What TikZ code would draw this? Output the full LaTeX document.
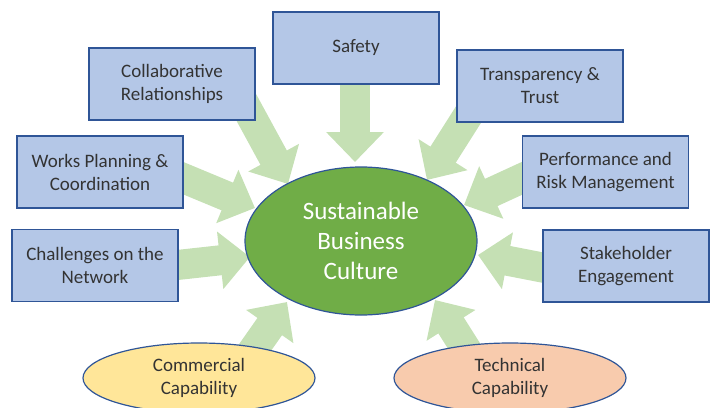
\documentclass[tikz,border=0pt]{standalone}
\usepackage{fontspec}
\setmainfont{Carlito}
\usetikzlibrary{shapes.geometric, arrows.meta, backgrounds}
\definecolor{boxblue}{HTML}{B4C7E7}
\definecolor{edgeblue}{HTML}{2F5597}
\definecolor{flowgreen}{HTML}{C5E0B4}
\definecolor{coregreen}{HTML}{70AD47}
\definecolor{capyellow}{HTML}{FFE699}
\definecolor{cappeach}{HTML}{F8CBAD}
\definecolor{inkgrey}{HTML}{333333}

\begin{document}
\begin{tikzpicture}[x=1pt, y=-1pt,
    factor/.style = {draw=edgeblue, line width=1.2pt, fill=boxblue, text=inkgrey,
      minimum width=166pt, minimum height=72pt, inner sep=0pt, align=center,
      font=\fontsize{19}{23}\selectfont},
    capability/.style = {ellipse, draw=edgeblue, line width=1.2pt, text=inkgrey,
      minimum width=232pt, minimum height=70pt, inner sep=0pt, align=center,
      font=\fontsize{19}{23}\selectfont},
    culture/.style = {ellipse, draw=edgeblue, line width=1.2pt, fill=coregreen, text=white,
      minimum width=232pt, minimum height=148pt, inner sep=0pt, align=center,
      font=\fontsize{25}{30}\selectfont},
    flow/.style = {draw=flowgreen, line width=30pt, -{Triangle[length=30pt, width=56pt]}}]
	\useasboundingbox (0,0) rectangle (712,407);
	\clip (0,0) rectangle (712,407);
		\node [factor] (safety) at (356,48) {Safety};
		\node [factor] (collab) at (172,84) {Collaborative\\Relationships};
		\node [factor] (works) at (100,172) {Works Planning \&\\Coordination};
		\node [factor] (network) at (95,265.5) {Challenges on the\\Network};
		\node [factor] (trust) at (540,86) {Transparency \&\\Trust};
		\node [factor] (risk) at (605.5,172) {Performance and\\Risk Management};
		\node [factor] (stake) at (626,266) {Stakeholder\\Engagement};
		\node [culture] (core) at (361,241) {Sustainable\\Business\\Culture};
		\node [capability, fill=capyellow] (commercial) at (199,378) {Commercial\\Capability};
		\node [capability, fill=cappeach] (technical) at (510,378) {Technical\\Capability};
	% arrow ends
		\coordinate (safety-tail) at (355,50);      \coordinate (safety-tip) at (355,162);
		\coordinate (collab-tail) at (233,83);      \coordinate (collab-tip) at (288,184);
		\coordinate (works-tail) at (154,166);      \coordinate (works-tip) at (255,208);
		\coordinate (network-tail) at (141,269);    \coordinate (network-tip) at (250,257);
		\coordinate (commercial-tail) at (235,376); \coordinate (commercial-tip) at (287,302);
		\coordinate (technical-tail) at (483,376);  \coordinate (technical-tip) at (435,300);
		\coordinate (stake-tail) at (586,276);      \coordinate (stake-tip) at (478,255);
		\coordinate (risk-tail) at (564,159);       \coordinate (risk-tip) at (464,205);
		\coordinate (trust-tail) at (486,87);       \coordinate (trust-tip) at (427,180);
	\begin{pgfonlayer}{background}
		\foreach \n in {safety, collab, works, network, commercial, technical, stake, risk, trust}
			\draw [flow] (\n-tail) -- (\n-tip);
	\end{pgfonlayer}
\end{tikzpicture}
\end{document}
